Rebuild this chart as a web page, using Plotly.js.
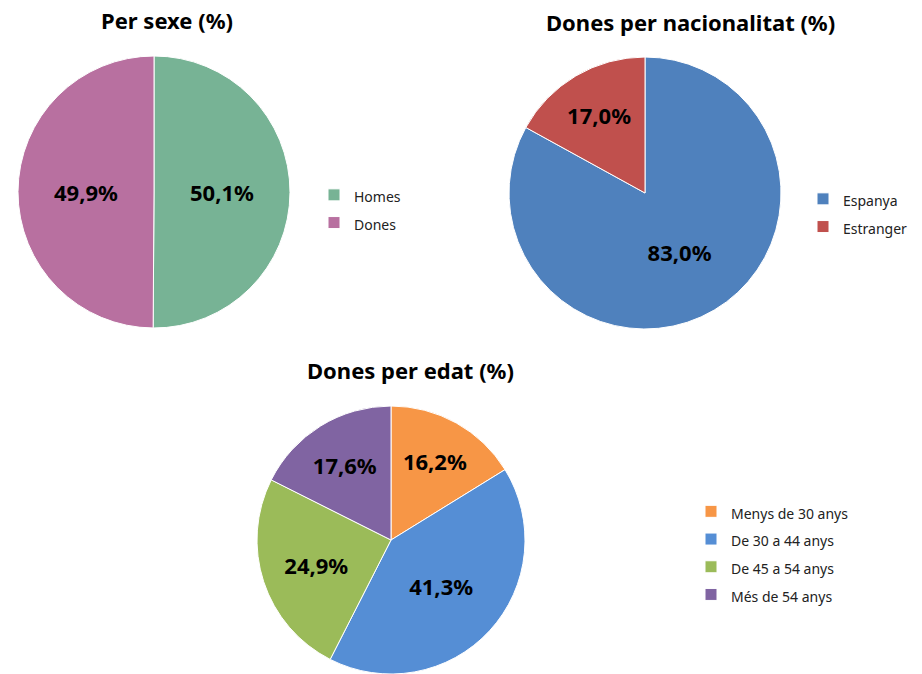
<!DOCTYPE html>
<html>
<head>
<meta charset="utf-8">
<script src="https://cdn.plot.ly/plotly-3.0.1.min.js"></script>
<style>html,body{margin:0;padding:0;background:#fff;}#chart{width:922px;height:674px;}</style>
</head>
<body>
<div id="chart"></div>
<script>
// Data
const sexLabels = ["Homes", "Dones"];
const sexValues = [50.1, 49.9];
const natLabels = ["Espanya", "Estranger"];
const natValues = [83.0, 17.0];
const ageLabels = ["Menys de 30 anys", "De 30 a 44 anys", "De 45 a 54 anys", "Més de 54 anys"];
const ageValues = [16.2, 41.3, 24.9, 17.6];
const titles = ["Per sexe (%)", "Dones per nacionalitat (%)", "Dones per edat (%)"];

const sexColors = ["#77B395", "#B870A0"];
const natColors = ["#4F81BD", "#C0504D"];
const ageColors = ["#F79646", "#558ED5", "#9BBB59", "#8064A2"];

const W = 922, H = 674;
const px = v => v / W;
const py = v => 1 - v / H;

const labelFont = {family: "Noto Sans, Open Sans, sans-serif", size: 22, color: "#000", weight: "bold"};
// legend entries: smaller visible text inside a taller legend line to match the row spacing
const legendText = l => '<span style="font-size:14px">' + l + '</span>';

function pie(labels, values, colors, dom, legendId) {
  return {
    type: "pie",
    labels: labels.map(legendText),
    values: values,
    sort: false,
    direction: "clockwise",
    rotation: 0,
    marker: {colors: colors, line: {color: "#ffffff", width: 1}},
    texttemplate: "%{value:.1f}%",
    textposition: "inside",
    insidetextorientation: "horizontal",
    textfont: labelFont,
    insidetextfont: labelFont,
    hoverinfo: "label+value",
    domain: dom,
    legend: legendId,
    showlegend: true
  };
}

const data = [
  pie(sexLabels, sexValues, sexColors, {x: [px(18), px(290)], y: [py(328), py(56)]}, "legend"),
  pie(natLabels, natValues, natColors, {x: [px(509), px(781)], y: [py(329), py(57)]}, "legend2"),
  pie(ageLabels, ageValues, ageColors, {x: [px(255), px(527)], y: [0, py(406)]}, "legend3")
];

const legFont = {family: "Noto Sans, Open Sans, sans-serif", size: 19, color: "#222"};
const legBase = {font: legFont, bgcolor: "rgba(0,0,0,0)", xanchor: "left", yanchor: "middle", tracegroupgap: 0};

const titleFont = {family: "Noto Sans, Open Sans, sans-serif", size: 22, color: "#000", weight: "bold"};

const layout = {
  width: W, height: H,
  margin: {l: 0, r: 0, t: 0, b: 0},
  paper_bgcolor: "#ffffff",
  separators: ",.",
  legend: Object.assign({}, legBase, {x: px(314), y: py(209)}),
  legend2: Object.assign({}, legBase, {x: px(803), y: py(213)}),
  legend3: Object.assign({}, legBase, {x: px(691), y: py(553)}),
  annotations: [
    {text: titles[0], x: px(167), y: py(20), xref: "paper", yref: "paper", showarrow: false, xanchor: "center", yanchor: "middle", font: titleFont},
    {text: titles[1], x: px(690), y: py(22), xref: "paper", yref: "paper", showarrow: false, xanchor: "center", yanchor: "middle", font: titleFont},
    {text: titles[2], x: px(410), y: py(370), xref: "paper", yref: "paper", showarrow: false, xanchor: "center", yanchor: "middle", font: titleFont}
  ]
};

Plotly.newPlot("chart", data, layout, {displayModeBar: false, staticPlot: true});
</script>
</body>
</html>
